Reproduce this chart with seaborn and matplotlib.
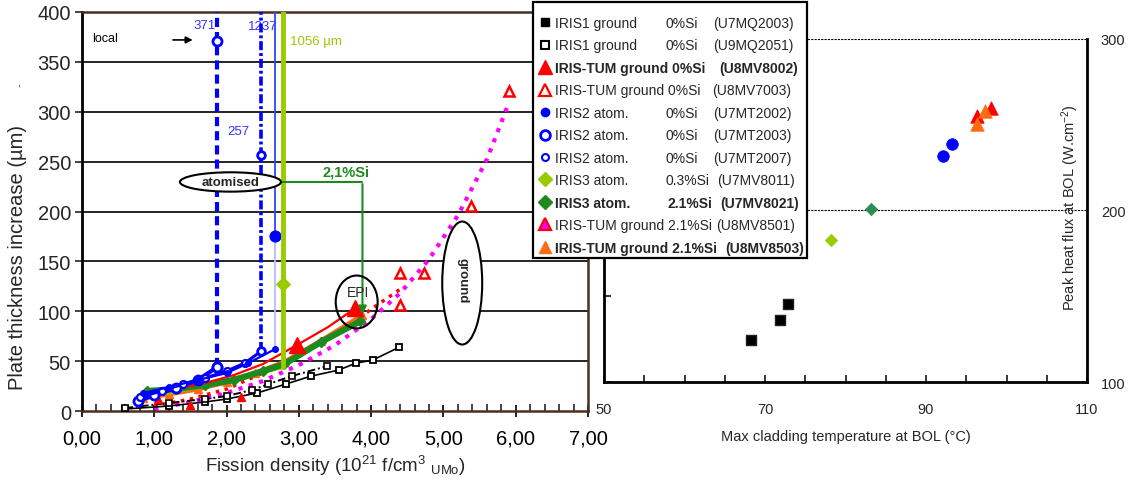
import numpy as np
import seaborn as sns
import matplotlib
matplotlib.use('Agg')
from matplotlib import pyplot as plt
from matplotlib.lines import Line2D
from matplotlib.patches import Ellipse, Rectangle
from matplotlib.ticker import MultipleLocator, FuncFormatter, FixedLocator

# ---- left chart: plate thickness increase (um) vs fission density (1e21 f/cm3)
# IRIS1 ground 0%Si
u7mq2003_x = [0.6, 1.2, 1.7, 2.0, 2.42, 2.82, 3.17, 3.55, 3.79, 4.02, 4.39]
u7mq2003_y = [2, 5, 9, 12, 18, 27, 35, 41, 48, 51, 64]
u9mq2051_x = [0.6, 1.2, 1.7, 2.0, 2.35, 2.58, 2.9, 3.39]
u9mq2051_y = [3, 8, 12, 15, 21, 27, 35, 45]
# IRIS-TUM ground 0%Si
u8mv8002_x = [0.9, 1.3, 1.7, 2.1, 2.5, 2.97, 3.4, 3.78]
u8mv8002_y = [15, 22, 28, 36, 47, 66, 84, 103]
u8mv7003_x = [4.40, 4.40, 4.73, 5.38, 5.91]
u8mv7003_y = [106, 138, 138, 206, 321]
u8mv7003_fit_x = [1.0, 1.5, 2.0, 2.5, 3.0, 3.5, 4.0, 4.4, 4.8, 5.2, 5.6, 5.9]
u8mv7003_fit_y = [2, 9, 18, 30, 46, 66, 92, 118, 152, 196, 252, 308]
# IRIS2 atomised 0%Si (curve, then jump values at the last fission density)
u7mt2002_x = [0.85, 1.2, 1.6, 2.0, 2.3, 2.67]
u7mt2002_y = [18, 24, 31, 38, 48, 62]
u7mt2002_jump = [175, 1237]
u7mt2003_x = [0.78, 1.0, 1.3, 1.6, 1.87]
u7mt2003_y = [10, 16, 23, 31, 44]
u7mt2003_jump = [371, 1237]
u7mt2007_x = [0.8, 1.1, 1.4, 1.7, 2.0, 2.25, 2.48]
u7mt2007_y = [14, 20, 27, 33, 40, 48, 60]
u7mt2007_jump = [257, 1237]
# IRIS3 atomised
u7mv8011_x = [0.85, 1.3, 1.8, 2.3, 2.78]
u7mv8011_y = [14, 20, 27, 36, 44]
u7mv8011_jump = [127, 1056]
u7mv8021_x = [0.9, 1.3, 1.7, 2.1, 2.5, 2.8, 3.3, 3.85]
u7mv8021_y = [20, 22, 26, 31, 40, 47, 69, 90]
# IRIS-TUM ground 2.1%Si
u8mv8501_x = [1.05, 1.5, 2.2]
u8mv8501_y = [12, 6, 14]
u8mv8501_fit_x = [1.0, 1.5, 2.0, 2.5, 3.0, 3.5, 4.0, 4.4]
u8mv8501_fit_y = [5, 12, 22, 38, 55, 76, 102, 122]
u8mv8503_x = [0.85, 1.2, 1.6, 2.0, 2.4, 2.8, 3.3, 3.88]
u8mv8503_y = [13, 17, 22, 29, 38, 49, 70, 96]

# ---- right chart: peak heat flux vs max cladding temperature at BOL
iris1_T = [68.2, 71.9, 72.9]
iris1_q = [124.4, 136.1, 145.4]
iris2_T = [92.1, 93.2]
iris2_q = [231.6, 238.5]
iris3_03_T = [78.2]
iris3_03_q = [183.0]
iris3_21_T = [83.2]
iris3_21_q = [200.8]
tum_red_T = [96.3, 98.1]
tum_red_q = [254.7, 259.4]
tum_orange_T = [96.3, 97.3]
tum_orange_q = [250.3, 258.0]
temp_ticks = [50, 70, 90, 110]

# legend columns
leg_name = ['IRIS1 ground', 'IRIS1 ground', 'IRIS-TUM ground 0%Si', 'IRIS-TUM ground 0%Si',
            'IRIS2 atom.', 'IRIS2 atom.', 'IRIS2 atom.', 'IRIS3 atom.', 'IRIS3 atom.',
            'IRIS-TUM ground 2.1%Si', 'IRIS-TUM ground 2.1%Si']
leg_si = ['0%Si', '0%Si', '', '', '0%Si', '0%Si', '0%Si', '0.3%Si', '2.1%Si', '', '']
leg_code = ['(U7MQ2003)', '(U9MQ2051)', '(U8MV8002)', '(U8MV7003)', '(U7MT2002)', '(U7MT2003)',
            '(U7MT2007)', '(U7MV8011)', '(U7MV8021)', '(U8MV8501)', '(U8MV8503)']
leg_bold = [False, False, True, False, False, False, False, False, True, False, True]
leg_si_px = [665, 665, 0, 0, 665, 665, 665, 666, 667, 0, 0]
leg_code_px = [713, 713, 719, 712, 713, 713, 713, 717, 720, 716, 725]

BLUE = '#0000ff'
RED = '#ff0000'
ORANGE = '#ff6a13'
YGREEN = '#99cc00'
DGREEN = '#1e8a1e'
MAGENTA = '#ff00ff'
BROWN = '#4d2e1f'

sns.set_theme(style='white')
plt.rcParams['font.family'] = ['Liberation Sans', 'DejaVu Sans']
plt.rcParams['mathtext.fontset'] = 'custom'
plt.rcParams['mathtext.rm'] = 'Liberation Sans'
plt.rcParams['mathtext.it'] = 'Liberation Sans:italic'
plt.rcParams['mathtext.bf'] = 'Liberation Sans:bold'

W, H = 1131, 481
fx = lambda px: px / W
fy = lambda py: 1 - py / H

fig = plt.figure(figsize=(W / 100, H / 100), dpi=100)
ax = fig.add_axes([fx(82), fy(412), 506 / W, 399 / H])
ax2 = fig.add_axes([fx(604), fy(383.3), 483 / W, 343.8 / H])


def line(a, x, y, **kw):
    sns.lineplot(x=x, y=y, ax=a, sort=False, estimator=None, legend=False, **kw)


# ---------------- left chart
ax.set_xlim(0, 7)
ax.set_ylim(0, 400)
ax.yaxis.set_major_locator(MultipleLocator(50))
ax.xaxis.set_major_locator(MultipleLocator(1))
ax.xaxis.set_minor_locator(MultipleLocator(0.2))
ax.xaxis.set_major_formatter(FuncFormatter(lambda v, p: f'{v:.2f}'.replace('.', ',')))
ax.grid(False)
for yv in range(50, 400, 50):
    ax.axhline(yv, color='black', lw=1.2, zorder=0.5)
ax.tick_params(axis='x', which='major', direction='inout', length=9, width=1.2,
               bottom=True, labelsize=14.5, pad=8, colors='black')
ax.tick_params(axis='x', which='minor', direction='in', length=5, width=1.2, bottom=True)
ax.tick_params(axis='y', which='major', direction='out', length=5, width=1.2, left=True,
               labelsize=14.5, pad=3)
for s in ['top', 'right', 'bottom']:
    ax.spines[s].set_color(BROWN)
    ax.spines[s].set_linewidth(1.8)
ax.spines['left'].set_color('black')
ax.spines['left'].set_linewidth(2)

# fitted / dotted curves
line(ax, u8mv7003_fit_x, u8mv7003_fit_y, color=MAGENTA, lw=3, linestyle=(0, (1, 1.6)), zorder=2)
line(ax, u8mv8501_fit_x, u8mv8501_fit_y, color=RED, lw=2.5, linestyle=(0, (1, 1.6)), zorder=2)
# IRIS1
line(ax, u7mq2003_x, u7mq2003_y, color='black', lw=1.2, marker='s', ms=5,
     mfc='white', mec='black', mew=1.3, zorder=3)
line(ax, u9mq2051_x, u9mq2051_y, color='black', lw=1.4, linestyle=(0, (4, 1.5, 1, 1.5)),
     marker='s', ms=4.5, mfc='white', mec='black', mew=1.2, zorder=3)
# IRIS-TUM / IRIS3 curves
line(ax, u8mv8503_x, u8mv8503_y, color=ORANGE, lw=3.5, marker='^', ms=6,
     mfc=ORANGE, mec=ORANGE, mew=1, zorder=3)
line(ax, u7mv8011_x, u7mv8011_y, color=YGREEN, lw=3, zorder=3)
line(ax, u7mv8021_x, u7mv8021_y, color=DGREEN, lw=4.5, marker='D', ms=5,
     mfc=DGREEN, mec=DGREEN, mew=1, zorder=3.2)
line(ax, u8mv8002_x, u8mv8002_y, color=RED, lw=1.6, marker='^', ms=12,
     mfc=RED, mec=RED, mew=1, markevery=[5, 7], zorder=3.3)
line(ax, u8mv8501_x, u8mv8501_y, color=RED, linestyle='none', marker='^', ms=6,
     mfc=RED, mec=RED, mew=1, zorder=3.3)
line(ax, u8mv7003_x, u8mv7003_y, color=RED, linestyle='none', marker='^', ms=7,
     mfc='white', mec=RED, mew=1.8, zorder=3.3)

# IRIS2 curves + jumps
line(ax, u7mt2003_x, u7mt2003_y, color=BLUE, lw=3, marker='o', ms=6.5,
     mfc='white', mec=BLUE, mew=2, zorder=3.4)
line(ax, [u7mt2003_x[-1]] * 3, [u7mt2003_y[-1]] + u7mt2003_jump, color=BLUE, lw=3,
     linestyle=(0, (2.2, 1.2)), marker='o', ms=6.5, mfc='white', mec=BLUE, mew=2,
     markevery=[0, 1], zorder=3.5)
line(ax, u7mt2007_x, u7mt2007_y, color=BLUE, lw=2.2, marker='o', ms=5,
     mfc='white', mec=BLUE, mew=1.6, zorder=3.4)
line(ax, [u7mt2007_x[-1]] * 3, [u7mt2007_y[-1]] + u7mt2007_jump, color=BLUE, lw=2.6,
     linestyle=(0, (2.5, 0.8, 0.8, 0.8)), marker='o', ms=5.5, mfc='white', mec=BLUE, mew=2,
     markevery=[0, 1], zorder=3.5)
line(ax, u7mt2002_x, u7mt2002_y, color=BLUE, lw=1.6, marker='o', ms=4,
     mfc=BLUE, mec=BLUE, mew=1, zorder=3.4)
line(ax, [u7mt2002_x[-1]] * 2, [u7mt2002_y[-1], u7mt2002_jump[0]], color='#b4bcff', lw=1.3,
     zorder=3.1)
line(ax, [u7mt2002_x[-1]] * 2, u7mt2002_jump, color='#3344ff', lw=1.3, marker='o', ms=8,
     mfc=BLUE, mec=BLUE, markevery=[0], zorder=3.5)
line(ax, [u7mv8011_x[-1]] * 3, [u7mv8011_y[-1]] + u7mv8011_jump, color=YGREEN, lw=3.5,
     marker='D', ms=7, mfc=YGREEN, mec=YGREEN, markevery=[1], zorder=3.5)

# annotations
ax.text(0.14, 374, 'local', fontsize=9, ha='left', va='center', color='black')
ax.annotate('', xy=(1.57, 372), xytext=(1.22, 372),
            arrowprops=dict(arrowstyle='-|>', color='black', lw=1.2, mutation_scale=10))
ax.text(1.69, 387, '371', fontsize=9.5, color='#3333ff', ha='center', va='center')
ax.text(2.50, 386, '1237', fontsize=9.5, color='#3333ff', ha='center', va='center')
ax.text(2.17, 280.5, '257', fontsize=9.5, color='#3333ff', ha='center', va='center')
ax.text(2.88, 371, '1056 µm', fontsize=9.5, color=YGREEN, ha='left', va='center')
ax.add_patch(Ellipse((2.054, 229.6), 1.397, 19.4, fc='white', ec='black', lw=1.5, zorder=4))
ax.text(2.054, 229.6, 'atomised', fontsize=9.5, weight='bold', ha='center', va='center', zorder=5)
ax.plot([2.75, 3.88], [229.6, 229.6], color=DGREEN, lw=1.5, zorder=3.6)
ax.annotate('', xy=(3.88, 94), xytext=(3.88, 230.3),
            arrowprops=dict(arrowstyle='-|>', color=DGREEN, lw=1.5, mutation_scale=12),
            zorder=3.6)
ax.text(3.65, 240.6, '2,1%Si', fontsize=10.5, weight='bold', color=DGREEN,
        ha='center', va='center')
ax.add_patch(Ellipse((3.80, 109.3), 0.58, 53, fc='none', ec='black', lw=1.5, zorder=4))
ax.text(3.82, 119.3, 'EPI', fontsize=10, ha='center', va='center', zorder=5)
ax.add_patch(Ellipse((5.26, 128.3), 0.553, 123.3, fc='white', ec='black', lw=1.5, zorder=4))
ax.text(5.26, 132, 'ground', fontsize=9.5, weight='bold', rotation=-90,
        ha='center', va='center', zorder=5)

ax.set_xlabel('Fission density (10$^{21}$ f/cm$^{3}$ $_{\\mathrm{UMo}}$)', fontsize=13.5)
ax.xaxis.label.set_va('center')
ax.xaxis.set_label_coords(0.5, -0.135)
ax.set_ylabel('Plate thickness increase (µm)', fontsize=14.5)
ax.yaxis.label.set_va('center')
ax.yaxis.set_label_coords(-0.128, 0.388)
fig.text(fx(19), fy(84), ',', fontsize=8, ha='center', va='center')

# ---------------- right chart
ax2.set_xlim(50, 110)
ax2.set_ylim(100, 300)
ax2.grid(False)
ax2.xaxis.set_major_locator(FixedLocator(temp_ticks))
ax2.xaxis.set_minor_locator(MultipleLocator(5))
ax2.yaxis.set_major_locator(FixedLocator([100, 150, 200, 250, 300]))
ax2.yaxis.set_major_formatter(FuncFormatter(lambda v, p: f'{v:.0f}' if v % 100 == 0 else ''))
ax2.tick_params(axis='x', which='both', direction='in', length=5, width=1.3, bottom=True,
                labelsize=10.5, pad=14)
ax2.tick_params(axis='y', which='major', direction='in', length=5, width=1.3, left=True,
                right=False, labelleft=False, labelright=True, labelsize=10.5, pad=10)
for s in ['left', 'bottom', 'right']:
    ax2.spines[s].set_color('black')
    ax2.spines[s].set_linewidth(2)
ax2.spines['top'].set_visible(False)
for yv in [200, 300]:
    ax2.axhline(yv, color='black', lw=0.8, linestyle=(0, (2, 1)), zorder=0.5)

sns.scatterplot(x=iris1_T, y=iris1_q, ax=ax2, marker='s', s=55, color='black',
                edgecolor='#222222', linewidth=1, legend=False, zorder=3)
sns.scatterplot(x=iris2_T, y=iris2_q, ax=ax2, marker='o', s=70, color=BLUE,
                edgecolor=BLUE, linewidth=0.5, legend=False, zorder=3)
sns.scatterplot(x=iris3_03_T, y=iris3_03_q, ax=ax2, marker='D', s=40, color=YGREEN,
                edgecolor=YGREEN, linewidth=0.5, legend=False, zorder=3)
sns.scatterplot(x=iris3_21_T, y=iris3_21_q, ax=ax2, marker='D', s=40, color='#2e8b57',
                edgecolor='#2e8b57', linewidth=0.5, legend=False, zorder=3)
sns.scatterplot(x=tum_red_T, y=tum_red_q, ax=ax2, marker='^', s=95, color=RED,
                edgecolor=RED, linewidth=0.5, legend=False, zorder=3)
sns.scatterplot(x=tum_orange_T, y=tum_orange_q, ax=ax2, marker='^', s=95, color=ORANGE,
                edgecolor=ORANGE, linewidth=0.5, legend=False, zorder=3.1)

ax2.set_xlabel('Max cladding temperature at BOL (°C)', fontsize=10.5)
ax2.xaxis.label.set_va('center')
ax2.xaxis.set_label_coords(0.5, -0.156)
ax2.set_ylabel('')
ax2.text(0.965, 0.511, 'Peak heat flux at BOL (W.cm$^{-2}$)', transform=ax2.transAxes,
         rotation=90, ha='center', va='center', fontsize=10.5)

# ---------------- legend box
fig.add_artist(Rectangle((fx(533), fy(259)), (807 - 533) / W, 256 / H,
                         transform=fig.transFigure, fc='white', ec='black', lw=1.6, zorder=4))
handles = [
    Line2D([], [], ls='none', marker='s', ms=6, mfc='black', mec='black', mew=1),
    Line2D([], [], ls='none', marker='s', ms=6, mfc='white', mec='black', mew=1.5),
    Line2D([], [], ls='none', marker='^', ms=10, mfc=RED, mec=RED, mew=1),
    Line2D([], [], ls='none', marker='^', ms=8, mfc='white', mec=RED, mew=1.6),
    Line2D([], [], ls='none', marker='o', ms=6, mfc=BLUE, mec=BLUE, mew=1),
    Line2D([], [], ls='none', marker='o', ms=7, mfc='white', mec=BLUE, mew=2),
    Line2D([], [], ls='none', marker='o', ms=5, mfc='white', mec=BLUE, mew=1.5),
    Line2D([], [], ls='none', marker='D', ms=7, mfc=YGREEN, mec=YGREEN, mew=1),
    Line2D([], [], ls='none', marker='D', ms=7, mfc=DGREEN, mec=DGREEN, mew=1),
    Line2D([], [], ls='none', marker='^', ms=9, mfc=MAGENTA, mec=RED, mew=1.6),
    Line2D([], [], ls='none', marker='^', ms=9, mfc=ORANGE, mec=ORANGE, mew=1),
]
leg = fig.legend(handles, leg_name, loc='upper left', bbox_to_anchor=(fx(538), fy(17)),
                 frameon=False, borderpad=0, borderaxespad=0, labelspacing=0.61,
                 handlelength=1.0, handletextpad=0.22, fontsize=10)
leg.set_zorder(6)
for t, b in zip(leg.get_texts(), leg_bold):
    if b:
        t.set_fontweight('bold')

fig.canvas.draw()
for i, t in enumerate(leg.get_texts()):
    bb = t.get_window_extent()
    yc = (bb.y0 + bb.y1) / 2 / H
    w = 'bold' if leg_bold[i] else 'normal'
    if leg_si[i]:
        fig.text(fx(leg_si_px[i]), yc, leg_si[i], fontsize=10, weight=w,
                 ha='left', va='center', zorder=7)
    fig.text(fx(leg_code_px[i]), yc, leg_code[i], fontsize=10, weight=w,
             ha='left', va='center', zorder=7)

fig.savefig('out.png', dpi=100)
